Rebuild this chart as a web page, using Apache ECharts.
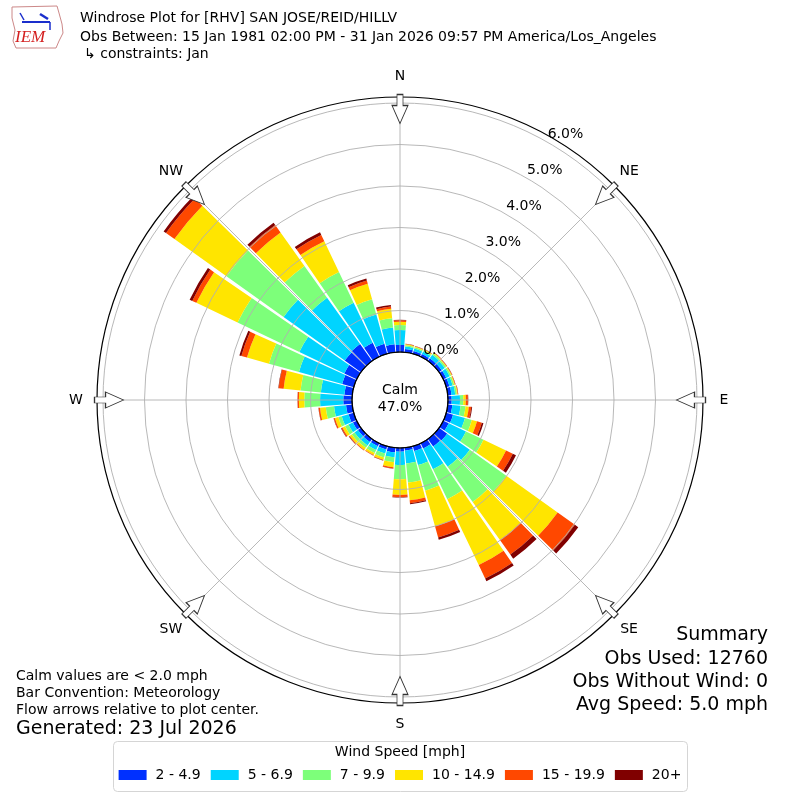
<!DOCTYPE html>
<html><head><meta charset="utf-8">
<script src="https://cdn.jsdelivr.net/npm/echarts@6/dist/echarts.min.js"></script>
<style>html,body{margin:0;padding:0;background:#fff}#c{width:800px;height:800px}</style>
</head><body><div id="c"></div>
<script>
// ---- data ----
const directions = ['0','10','20','30','40','50','60','70','80','90','100','110','120','130','140','150','160','170',
  '180','190','200','210','220','230','240','250','260','270','280','290','300','310','320','330','340','350'];
const speedBins = ['2 - 4.9','5 - 6.9','7 - 9.9','10 - 14.9','15 - 19.9','20+'];
// percent of observations per direction, per speed bin
const s2to5 = [0.17,0.08,0.07,0.07,0.08,0.08,0.08,0.08,0.09,0.09,0.11,0.17,0.145,0.24,0.22,0.14,0.12,0.07,
  0.09,0.11,0.08,0.08,0.09,0.09,0.10,0.13,0.15,0.21,0.19,0.29,0.33,0.48,0.50,0.37,0.25,0.19];
const s5to7 = [0.36,0.06,0.06,0.07,0.10,0.09,0.09,0.08,0.09,0.20,0.20,0.30,0.46,0.67,0.60,0.55,0.35,0.31,
  0.32,0.12,0.10,0.10,0.10,0.10,0.12,0.17,0.29,0.56,0.57,1.08,1.20,1.81,1.37,1.07,0.73,0.41];
const s7to10 = [0.12,0.03,0.03,0.03,0.04,0.04,0.04,0.04,0.04,0.08,0.12,0.17,0.47,1.08,1.04,0.80,0.64,0.46,
  0.34,0.12,0.10,0.08,0.07,0.08,0.09,0.085,0.20,0.38,0.49,0.75,1.65,1.69,0.94,0.82,0.38,0.22];
const s10to15 = [0.08,0.02,0.02,0.02,0.02,0.02,0.02,0.02,0.02,0.06,0.08,0.13,0.60,1.52,1.13,1.76,0.89,0.43,
  0.38,0.12,0.06,0.05,0.06,0.06,0.07,0.085,0.14,0.13,0.41,0.55,1.10,1.54,0.99,0.82,0.39,0.23];
const s15to20 = [0.035,0.01,0.01,0.01,0.01,0.01,0.01,0.01,0.01,0.05,0.06,0.12,0.18,0.51,0.43,0.36,0.28,0.07,
  0.05,0.03,0.015,0.015,0.015,0.02,0.03,0.03,0.035,0.03,0.12,0.14,0.11,0.25,0.22,0.17,0.08,0.055];
const s20plus = [0.01,0.005,0.005,0.005,0.005,0.005,0.005,0.005,0.005,0.01,0.02,0.04,0.085,0.10,0.12,0.07,0.06,0.025,
  0.015,0.005,0.005,0.005,0.005,0.01,0.01,0.005,0.005,0.005,0.01,0.05,0.07,0.07,0.07,0.07,0.05,0.04];
const radiusTicks = [0,1,2,3,4,5,6];
const compassNames = ['N','NE','E','SE','S','SW','W','NW'];
const compassAngles = [0,45,90,135,180,225,270,315];
const calmPct = 47.0;
const summaryLines = ['Summary','Obs Used: 12760','Obs Without Wind: 0','Avg Speed: 5.0 mph'];
const noteLines = ['Calm values are < 2.0 mph','Bar Convention: Meteorology','Flow arrows relative to plot center.'];

// ---- styles ----
const binValues = [s2to5,s5to7,s7to10,s10to15,s15to20,s20plus];
const binColors = ['#0030ff','#00d4ff','#7dff7a','#ffe500','#ff4800','#800000'];
const FONT = 'DejaVu Sans';
const FS = 14;
const CX = 400, CY = 400;

const chart = echarts.init(document.getElementById('c'), null, {renderer:'canvas'});

const barSeries = speedBins.map((name,i)=>({
  name, type:'bar', coordinateSystem:'polar', polarIndex:0, stack:'total',
  data: binValues[i], barCategoryGap:'10%', itemStyle:{color:binColors[i]},
  z:2, silent:true
}));

const hiddenAngle = (idx, extra) => Object.assign({polarIndex:idx, type:'value', min:0, max:360, startAngle:90,
  axisLine:{show:false}, axisTick:{show:false}, axisLabel:{show:false}, splitLine:{show:false}}, extra||{});
const hiddenRadius = (idx) => ({polarIndex:idx, type:'value', min:0, max:1,
  axisLine:{show:false}, axisTick:{show:false}, axisLabel:{show:false}, splitLine:{show:false}});

const arrowPath = 'path://M0,0 L8,18 L3,18 L3,29 L-3,29 L-3,18 L-8,18 Z';

const txt = (x, y, text, extra) => ({type:'text', x, y, z:20,
  style:Object.assign({text, fontFamily:FONT, fontSize:FS, fill:'#000', verticalAlign:'middle'}, extra||{})});

const option = {
  animation:false,
  backgroundColor:'#fff',
  polar:[
    {center:[CX,CY], radius:[48,297]},
    {center:[CX,CY], radius:[48,303]},
    {center:[CX,CY], radius:[0,324]},
    {center:[CX,CY], radius:[0,291]}
  ],
  angleAxis:[
    {polarIndex:0, type:'category', data:directions, startAngle:95, boundaryGap:true,
      axisLine:{show:false}, axisTick:{show:false}, axisLabel:{show:false}, splitLine:{show:false}},
    hiddenAngle(1, {interval:45, z:10,
      axisLine:{show:true, lineStyle:{color:'#000', width:1.2}},
      splitLine:{show:true, lineStyle:{color:'#b0b0b0', width:0.9}}}),
    hiddenAngle(2),
    hiddenAngle(3)
  ],
  radiusAxis:[
    {polarIndex:0, type:'value', min:0, max:6, interval:1, z:10,
      axisLine:{show:false}, axisTick:{show:false}, axisLabel:{show:false},
      splitLine:{show:true, lineStyle:{color:['#000','#b0b0b0','#b0b0b0','#b0b0b0','#b0b0b0','#b0b0b0','#b0b0b0'], width:0.9}}},
    Object.assign(hiddenRadius(1), {max:6}),
    hiddenRadius(2),
    hiddenRadius(3)
  ],
  legend:{
    data:speedBins, left:'center', top:763, itemWidth:28, itemHeight:10, itemGap:10,
    icon:'rect', selectedMode:false,
    textStyle:{fontFamily:FONT, fontSize:FS, color:'#000', padding:[0,0,0,4]}
  },
  series: barSeries.concat([
    {type:'scatter', coordinateSystem:'polar', polarIndex:0, silent:true, z:12,
      data: radiusTicks.map(v=>[v,'30']), symbolSize:1, itemStyle:{color:'rgba(0,0,0,0)', opacity:1},
      label:{show:true, position:'inside', offset:[17,-8], fontFamily:FONT, fontSize:FS, color:'#000',
        textBorderWidth:0, formatter:p=>p.value[0].toFixed(1)+'%'}},
    {type:'scatter', coordinateSystem:'polar', polarIndex:2, silent:true, z:12,
      data: compassAngles.map((a,i)=>({value:[1,a], name:compassNames[i]})), symbolSize:1,
      itemStyle:{color:'rgba(0,0,0,0)', opacity:1},
      label:{show:true, position:'inside', fontFamily:FONT, fontSize:FS, color:'#000', textBorderWidth:0, formatter:p=>p.name}},
    {type:'scatter', coordinateSystem:'polar', polarIndex:3, silent:true, z:12,
      data: compassAngles.map(a=>({value:[1,a], symbolRotate:180-a})), symbol:arrowPath, symbolSize:[16,29],
      itemStyle:{color:'#fff', borderColor:'#333', borderWidth:1, opacity:1}}
  ]),
  graphic:{elements:[
    // logo
    {type:'polygon', shape:{points:[[12,7],[57,6],[59,13],[62,24],[63,33],[59,41],[56,48],[16,48],[13,41],[15,30],[12,18]]},
      style:{fill:'#fff', stroke:'#c88', lineWidth:1}},
    {type:'line', shape:{x1:22,y1:22,x2:50,y2:22}, style:{stroke:'#1a2ecc', lineWidth:2}},
    {type:'line', shape:{x1:20,y1:13,x2:24,y2:20}, style:{stroke:'#1a2ecc', lineWidth:1.5}},
    {type:'line', shape:{x1:40,y1:14,x2:48,y2:19}, style:{stroke:'#1a2ecc', lineWidth:2.5}},
    {type:'line', shape:{x1:50,y1:22,x2:50,y2:30}, style:{stroke:'#1a2ecc', lineWidth:1.5}},
    {type:'text', x:15, y:38, style:{text:'IEM', fontFamily:'Liberation Serif', fontStyle:'italic', fontSize:17,
      fill:'#d42020', verticalAlign:'middle'}},
    // titles
    txt(80, 18, 'Windrose Plot for [RHV] SAN JOSE/REID/HILLV'),
    txt(80, 37, 'Obs Between: 15 Jan 1981 02:00 PM - 31 Jan 2026 09:57 PM America/Los_Angeles'),
    txt(84, 54, '\u21b3 constraints: Jan'),
    // calm
    txt(CX, 390, 'Calm', {align:'center'}),
    txt(CX, 407, calmPct.toFixed(1)+'%', {align:'center'}),
    // notes
    txt(16, 676, noteLines[0]),
    txt(16, 693, noteLines[1]),
    txt(16, 710, noteLines[2]),
    txt(16, 729, 'Generated: 23 Jul 2026', {fontSize:19}),
    // summary
    txt(768, 635, summaryLines[0], {fontSize:19, align:'right'}),
    txt(768, 659, summaryLines[1], {fontSize:19, align:'right'}),
    txt(768, 682, summaryLines[2], {fontSize:19, align:'right'}),
    txt(768, 705, summaryLines[3], {fontSize:19, align:'right'}),
    // legend box
    {type:'rect', z:-1, shape:{x:113.5, y:741.5, width:574, height:50, r:4}, style:{fill:'#fff', stroke:'#d5d5d5', lineWidth:1}},
    txt(CX, 752, 'Wind Speed [mph]', {align:'center'})
  ]}
};
chart.setOption(option);
</script></body></html>
